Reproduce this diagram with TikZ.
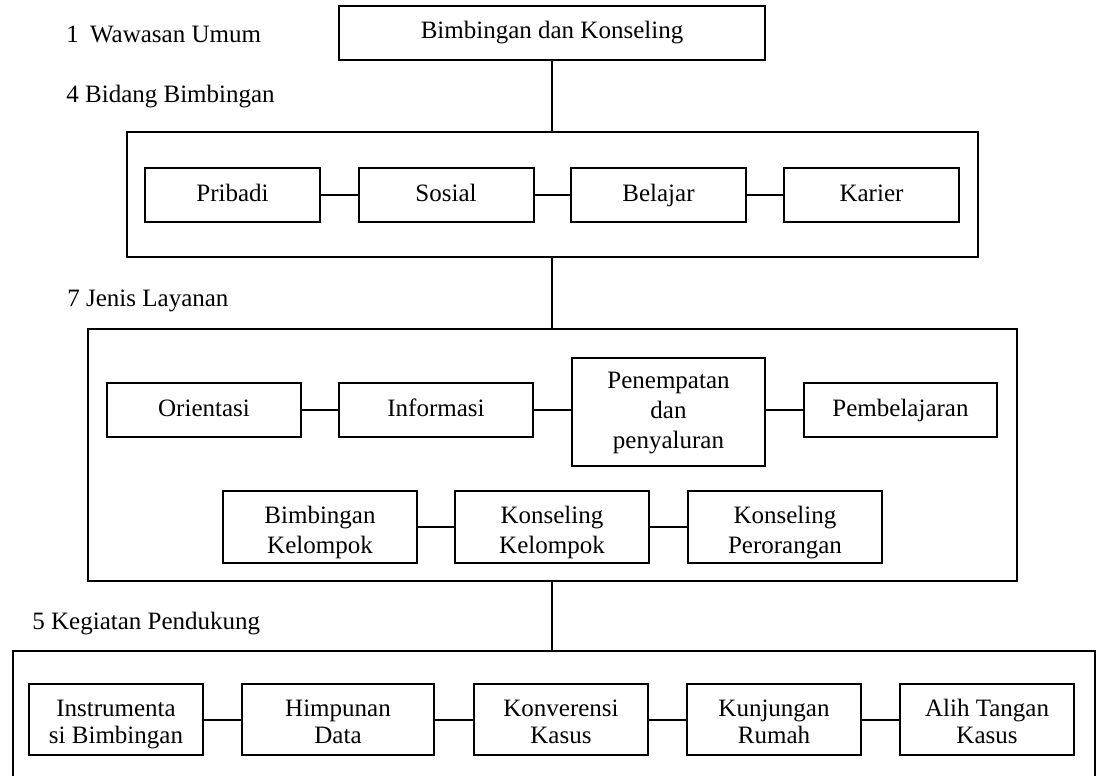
\documentclass[tikz,border=0pt]{standalone}
\usepackage{fontspec}
\setmainfont{Liberation Serif}
\newcommand\kfirst{\rule{0pt}{14.45pt}}
\newcommand\mfirst{\rule{0pt}{15.5pt}}
\begin{document}
\begin{tikzpicture}[x=0.5pt,y=-0.5pt,
  every node/.style={font=\fontsize{12.5}{15}\selectfont},
  box/.style={draw,line width=1pt,fill=white,inner sep=0pt,align=center,minimum height=27pt},
  outer/.style={draw,line width=1pt,inner sep=0pt},
  link/.style={line width=1pt},
  lbl/.style={anchor=west,inner sep=0pt},
  kbox/.style={box,minimum width=87pt,minimum height=35.5pt,font=\fontsize{12.5}{13.5}\selectfont}]
\useasboundingbox (0,0) rectangle (1099,776);
\clip (0,0) rectangle (1099,776);
\fill[white] (0,0) rectangle (1099,776);
% labels
\node[lbl] (l1) at (66,36) {1\hspace{0.45em}Wawasan Umum\strut};
\node[lbl] (l4) at (66,96) {4 Bidang Bimbingan\strut};
\node[lbl] (l7) at (67,300) {7 Jenis Layanan\strut};
\node[lbl] (l5) at (32,623) {5 Kegiatan Pendukung\strut};
% top
\node[box,minimum width=213pt] (bk) at (552,33) {Bimbingan dan Konseling\strut};
% bidang
\node[outer,minimum width=425.75pt,minimum height=62.5pt] (bid) at (552.25,194.5) {};
\node[box,minimum width=87.5pt] (pri) at (232.5,195) {Pribadi\strut};
\node[box,minimum width=87.5pt] (sos) at (446,195) {Sosial\strut};
\node[box,minimum width=87.5pt] (bel) at (658.5,195) {Belajar\strut};
\node[box,minimum width=87.5pt] (kar) at (871.5,195) {Karier\strut};
% jenis
\node[outer,minimum width=464.5pt,minimum height=126pt] (jen) at (552.5,455) {};
\node[box,minimum width=97pt] (ori) at (204,410) {Orientasi\strut};
\node[box,minimum width=97pt] (inf) at (436,410) {Informasi\strut};
\node[box,minimum width=96.5pt,minimum height=54pt] (pen) at (668.5,412) {Penempatan\strut\\dan\strut\\penyaluran\strut};
\node[box,minimum width=96.5pt] (pem) at (900.5,410) {Pembelajaran\strut};
\node[box,minimum width=97pt,minimum height=36pt] (bkel) at (320,527) {\mfirst Bimbingan\\Kelompok\strut};
\node[box,minimum width=97pt,minimum height=36pt] (kkel) at (552,527) {\mfirst Konseling\\Kelompok\strut};
\node[box,minimum width=97pt,minimum height=36pt] (kper) at (785,527) {\mfirst Konseling\\Perorangan\strut};
% kegiatan
\node[outer,minimum width=541.2pt,minimum height=75pt] (keg) at (553.8,726) {};
\node[kbox] (ins) at (116,719.5) {\kfirst Instrumenta\\si Bimbingan\strut};
\node[kbox,minimum width=96pt] (him) at (338,719.5) {\kfirst Himpunan\\Data\strut};
\node[kbox] (kon) at (561,719.5) {\kfirst Konverensi\\Kasus\strut};
\node[kbox] (kun) at (774,719.5) {\kfirst Kunjungan\\Rumah\strut};
\node[kbox] (ali) at (987,719.5) {\kfirst Alih Tangan\\Kasus\strut};
% connectors
\draw[link] (bk.south) -- (bk.south |- bid.north);
\draw[link] (bk.south |- bid.south) -- (bk.south |- jen.north);
\draw[link] (bk.south |- jen.south) -- (bk.south |- keg.north);
\draw[link] (pri) -- (sos);
\draw[link] (sos) -- (bel);
\draw[link] (bel) -- (kar);
\draw[link] (ori) -- (inf);
\draw[link] (inf.east) -- (inf.east -| pen.west);
\draw[link] (pem.west -| pen.east) -- (pem.west);
\draw[link] (bkel) -- (kkel);
\draw[link] (kkel) -- (kper);
\draw[link] (ins) -- (him);
\draw[link] (him) -- (kon);
\draw[link] (kon) -- (kun);
\draw[link] (kun) -- (ali);
\end{tikzpicture}
\end{document}
